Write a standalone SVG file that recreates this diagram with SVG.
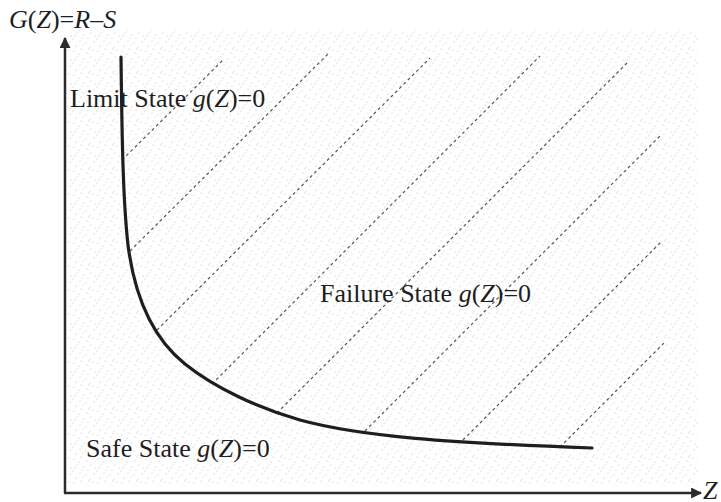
<svg xmlns="http://www.w3.org/2000/svg" width="721" height="502" viewBox="0 0 721 502">
<style>
.lbl{font-family:"Liberation Serif","Times New Roman",serif;font-size:26px;fill:#1e1e1e}
.it{font-style:italic}
.axis{stroke:#2b2b2b;stroke-width:2.5;fill:none}
.hatch{stroke:#555;stroke-width:1.2;stroke-dasharray:3 3;fill:none}
.curve{stroke:#1e1e1e;stroke-width:3.2;fill:none;stroke-linecap:round}
</style>
<defs>
<pattern id="stip" width="24" height="24" patternUnits="userSpaceOnUse">
<g fill="#bdbdbd">
<circle cx="2" cy="3" r="0.6"/><circle cx="9" cy="1" r="0.6"/><circle cx="15" cy="5" r="0.6"/><circle cx="21" cy="2" r="0.6"/>
<circle cx="5" cy="9" r="0.6"/><circle cx="12" cy="11" r="0.6"/><circle cx="19" cy="9" r="0.6"/><circle cx="1" cy="15" r="0.6"/>
<circle cx="8" cy="17" r="0.6"/><circle cx="16" cy="14" r="0.6"/><circle cx="22" cy="18" r="0.6"/><circle cx="4" cy="22" r="0.6"/>
<circle cx="11" cy="21" r="0.6"/><circle cx="18" cy="23" r="0.6"/><circle cx="14" cy="19" r="0.6"/><circle cx="7" cy="6" r="0.6"/>
<circle cx="23" cy="12" r="0.6"/><circle cx="10" cy="14" r="0.6"/><circle cx="17" cy="1" r="0.6"/><circle cx="3" cy="12" r="0.6"/>
</g>
</pattern>
<marker id="arr" viewBox="0 0 10 10" refX="9" refY="5" markerWidth="4.4" markerHeight="4.4" markerUnits="strokeWidth" orient="auto">
<path d="M0,0 L10,5 L0,10 z" fill="#2b2b2b"/>
</marker>
</defs>
<rect id="background" x="0" y="0" width="721" height="502" fill="#fff"/>
<rect id="stipple" x="68" y="30" width="630" height="455" fill="url(#stip)"/>
<g id="hatching">
<line class="hatch" x1="122" y1="160" x2="223" y2="60"/>
<line class="hatch" x1="130" y1="251" x2="328" y2="54"/>
<line class="hatch" x1="157" y1="330" x2="430" y2="58"/>
<line class="hatch" x1="212" y1="384" x2="540" y2="56"/>
<line class="hatch" x1="277" y1="413" x2="629" y2="61"/>
<line class="hatch" x1="365" y1="431" x2="662" y2="134"/>
<line class="hatch" x1="463" y1="440" x2="662" y2="241"/>
<line class="hatch" x1="560" y1="447" x2="664" y2="343"/>
</g>
<g id="labels">
<text id="y-label" class="lbl" x="9" y="28"><tspan class="it">G</tspan>(<tspan class="it">Z</tspan>)=<tspan class="it">R</tspan>–<tspan class="it">S</tspan></text>
<text id="limit-label" class="lbl" x="70" y="107">Limit State <tspan class="it">g</tspan>(<tspan class="it">Z</tspan>)=0</text>
<text id="failure-label" class="lbl" x="320" y="302">Failure State <tspan class="it">g</tspan>(<tspan class="it">Z</tspan>)=0</text>
<text id="safe-label" class="lbl" x="86" y="457">Safe State <tspan class="it">g</tspan>(<tspan class="it">Z</tspan>)=0</text>
<text id="x-label" class="lbl it" x="703" y="499">Z</text>
</g>
<g id="limit-curve">
<path class="curve" d="M121,57 C122,140 123,200 128,245 C135,300 155,340 185,364 C215,388 258,408 300,420 C360,436.5 450,443 592,448"/>
</g>
<g id="axes">
<line class="axis" x1="65" y1="493" x2="65" y2="38" marker-end="url(#arr)"/>
<line class="axis" x1="64" y1="493" x2="701" y2="493" marker-end="url(#arr)"/>
</g>
</svg>
